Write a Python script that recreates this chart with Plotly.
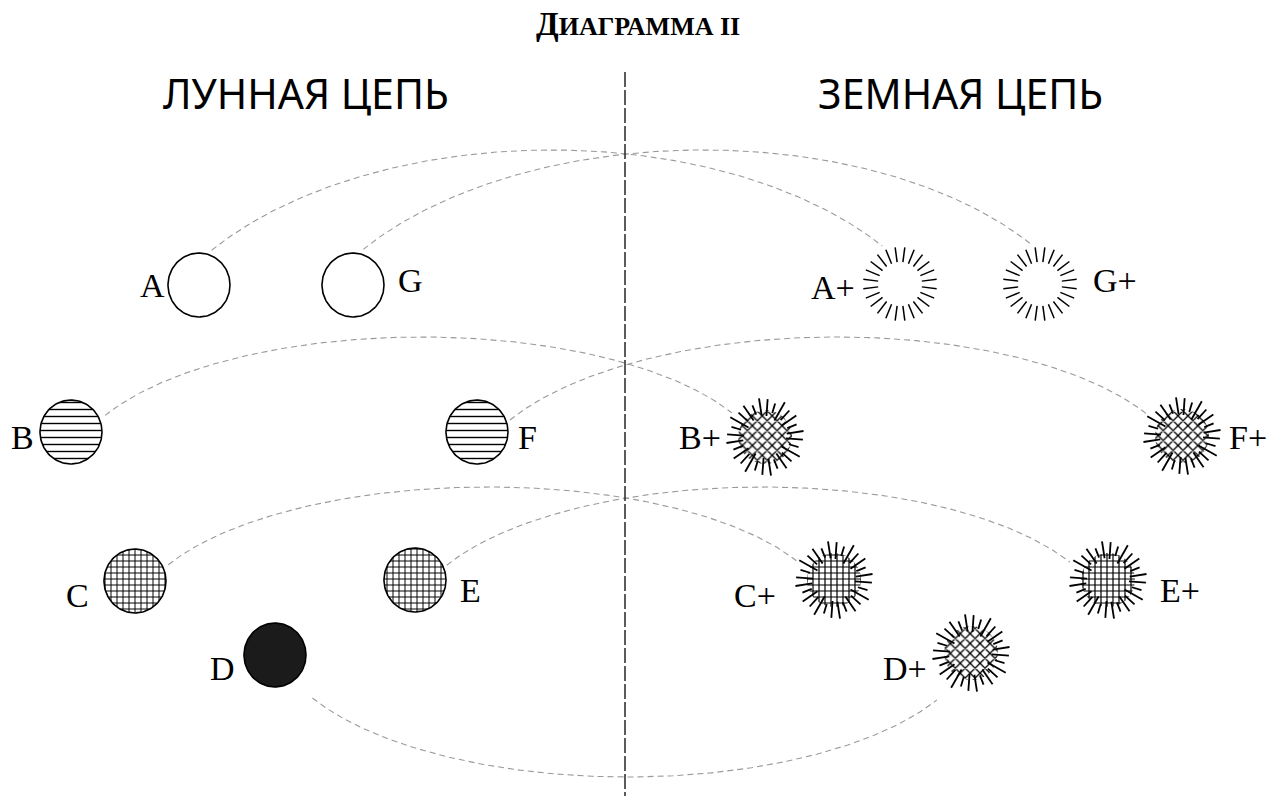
import numpy as np
import plotly.graph_objects as go

# ---------------- data ----------------
moon_names = ["A", "G", "B", "F", "C", "E", "D"]
moon_x = [199, 353, 71, 477, 135, 415, 275]
moon_y = [285, 285, 432, 432, 581, 580, 655]
moon_kind = ["empty", "empty", "lines", "lines", "grid", "grid", "solid"]
moon_label_x = [152, 410, 22, 527, 77, 470, 222]
moon_label_y = [285, 280, 437, 437, 595, 590, 668]

earth_names = ["A+", "G+", "B+", "F+", "C+", "E+", "D+"]
earth_x = [900, 1040, 765, 1182, 834, 1108, 971]
earth_y = [284, 284, 437, 436, 580, 580, 653]
earth_kind = ["rays", "rays", "cross", "cross", "grid", "grid", "cross"]
earth_label_x = [833, 1115, 700, 1248, 755, 1180, 905]
earth_label_y = [287, 280, 437, 437, 595, 590, 668]

# curve i joins moon globe i with earth globe i
curve_start_angle = [70, 74, 26, 20, 26, 25, -49]
curve_start_gap = [37, 37, 38, 35, 37, 35, 57]
curve_end_angle = [115, 104, 144, 148, 153, 155, -126]
curve_end_gap = [42, 42, 41, 42, 42, 42, 58]
curve_apex_y = [150, 150, 337, 337, 487, 487, 777]

titles = ["ЛУННАЯ ЦЕПЬ", "ЗЕМНАЯ ЦЕПЬ"]
title_x = [306, 960]
divider_x = 625

W, H = 1278, 796
R_MOON = 31
R_EARTH = 27

fig = go.Figure()

t = np.linspace(0, 2 * np.pi, 120)

# ---------------- moon globes ----------------
for name, x, y, kind in zip(moon_names, moon_x, moon_y, moon_kind):
    cx = x + R_MOON * np.cos(t)
    cy = y + R_MOON * 1.03 * np.sin(t)
    kw = dict(x=cx, y=cy, mode="lines", line=dict(color="black", width=1.6),
              fill="toself", hoverinfo="skip", showlegend=False)
    if kind == "empty":
        kw["fillcolor"] = "white"
    elif kind == "solid":
        kw["fillcolor"] = "#1b1b1b"
    elif kind == "lines":
        kw["fillcolor"] = "white"
        kw["fillpattern"] = dict(shape="-", size=7, solidity=0.2, fgopacity=1,
                                 fgcolor="black", bgcolor="white")
    elif kind == "grid":
        kw["fillcolor"] = "white"
        kw["fillpattern"] = dict(shape="+", size=6, solidity=0.3, fgopacity=1,
                                 fgcolor="black", bgcolor="white")
    fig.add_trace(go.Scatter(**kw))

# ---------------- earth globes ----------------
ray_outer = [38, 35, 40, 36, 38, 34, 39]
ray_inner = [21, 25, 19, 23, 20, 24, 22]
for name, x, y, kind in zip(earth_names, earth_x, earth_y, earth_kind):
    if kind != "rays":
        cx = x + R_EARTH * np.cos(t)
        cy = y + R_EARTH * np.sin(t)
        shape = "x" if kind == "cross" else "+"
        size = 7 if kind == "cross" else 6
        sol = 0.34 if kind == "cross" else 0.36
        fig.add_trace(go.Scatter(
            x=cx, y=cy, mode="lines", line=dict(color="rgba(0,0,0,0)", width=0),
            fill="toself", fillcolor="white",
            fillpattern=dict(shape=shape, size=size, solidity=sol, fgopacity=1,
                             fgcolor="black", bgcolor="white"),
            hoverinfo="skip", showlegend=False))
    rx, ry = [], []
    if kind == "rays":
        n = 24
        for k in range(n):
            a = np.deg2rad(7.5 + 15 * k)
            rx += [x + 22 * np.cos(a), x + 37 * np.cos(a), None]
            ry += [y + 22 * np.sin(a), y + 37 * np.sin(a), None]
        lw = 1.5
    else:
        n = 28
        for k in range(n):
            a = np.deg2rad(360.0 / n * k + 4)
            ro = ray_outer[k % len(ray_outer)]
            ri = ray_inner[k % len(ray_inner)]
            rx += [x + ri * np.cos(a), x + ro * np.cos(a), None]
            ry += [y + ri * np.sin(a), y + ro * np.sin(a), None]
        lw = 1.8
    fig.add_trace(go.Scatter(x=rx, y=ry, mode="lines",
                             line=dict(color="black", width=lw),
                             hoverinfo="skip", showlegend=False))

# ---------------- connecting curves ----------------
for i in range(len(moon_names)):
    a0 = np.deg2rad(curve_start_angle[i])
    a1 = np.deg2rad(curve_end_angle[i])
    x0 = moon_x[i] + curve_start_gap[i] * np.cos(a0)
    y0 = moon_y[i] - curve_start_gap[i] * np.sin(a0)
    x3 = earth_x[i] + curve_end_gap[i] * np.cos(a1)
    y3 = earth_y[i] - curve_end_gap[i] * np.sin(a1)
    up = curve_apex_y[i] < (y0 + y3) / 2
    hgt = abs((y0 + y3) / 2 - curve_apex_y[i])
    w = (x3 - x0) / 2
    m = max(0.8, 2.3 * hgt / w)
    r = hgt / (m * w)
    s = r / (1 - r)
    u = np.sqrt(1 - s * s)
    a = w / u
    b = m * w * s / (1 - s * s)
    th = np.linspace(np.arccos(-u), np.arccos(u), 200)
    xs = (x0 + x3) / 2 + a * np.cos(th)
    ylin = y0 + (y3 - y0) * (xs - x0) / (x3 - x0)
    bump = b * (np.sin(th) - s)
    ys = ylin - bump if up else ylin + bump
    fig.add_trace(go.Scatter(x=xs, y=ys, mode="lines",
                             line=dict(color="#9a9a9a", width=1.1, dash="6px,4px"),
                             hoverinfo="skip", showlegend=False))

# ---------------- divider ----------------
fig.add_shape(type="line", x0=divider_x, x1=divider_x, y0=72, y1=H,
              xref="x", yref="y", line=dict(color="#333333", width=1.6, dash="15px,3px"))

# ---------------- labels ----------------
label_font = dict(family="Liberation Serif, DejaVu Serif, serif", size=34, color="black")
for name, lx, ly in zip(moon_names + earth_names, moon_label_x + earth_label_x,
                        moon_label_y + earth_label_y):
    fig.add_annotation(x=lx, y=ly, text=name, showarrow=False, font=label_font,
                       xanchor="center", yanchor="middle")

for txt, tx in zip(titles, title_x):
    fig.add_annotation(x=tx, y=93, text=txt, showarrow=False,
                       font=dict(family="Noto Sans, Open Sans, sans-serif", size=41, color="black"),
                       xanchor="center", yanchor="middle")

fig.add_annotation(x=638, y=24,
                   text="<b>Д<span style='font-size:26px'>ИАГРАММА II</span></b>",
                   showarrow=False,
                   font=dict(family="Liberation Serif, DejaVu Serif, serif", size=33, color="black"),
                   xanchor="center", yanchor="middle")

fig.update_layout(
    width=W, height=H, autosize=False,
    margin=dict(l=0, r=0, t=0, b=0),
    paper_bgcolor="white", plot_bgcolor="white",
    xaxis=dict(range=[0, W], visible=False, fixedrange=True),
    yaxis=dict(range=[H, 0], visible=False, fixedrange=True),
    showlegend=False,
)

fig.write_html("out.html", config={"displayModeBar": False},
               post_script="document.body.style.margin='0';document.body.style.overflow='hidden';")
